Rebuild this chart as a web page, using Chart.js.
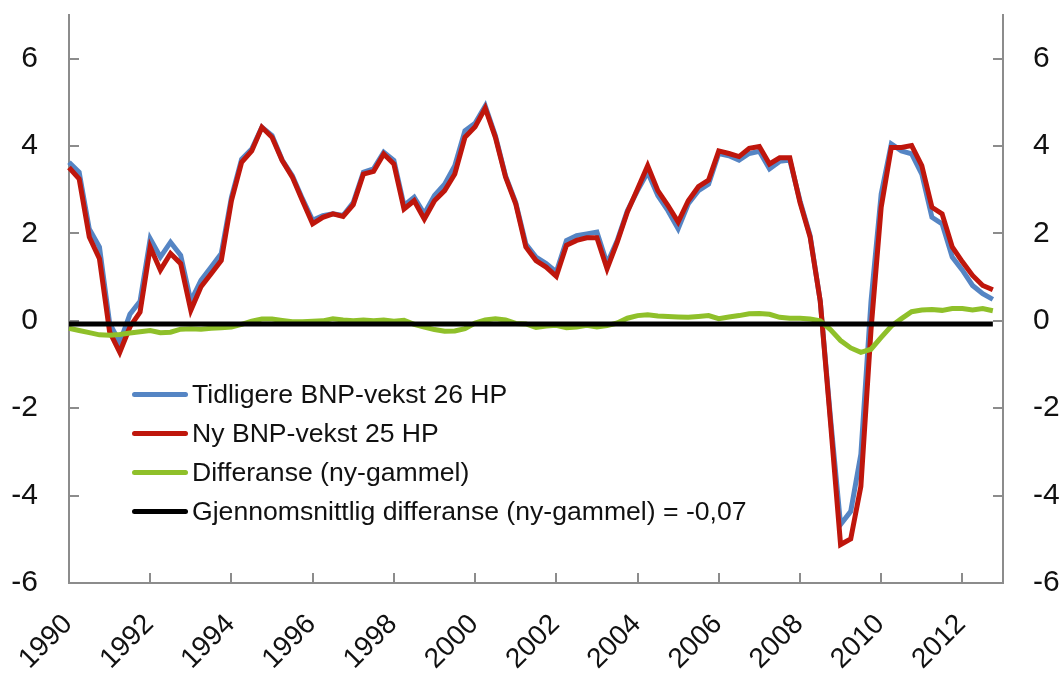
<!DOCTYPE html>
<html>
<head>
<meta charset="utf-8">
<script src="https://cdn.jsdelivr.net/npm/chart.js@4.4.1/dist/chart.umd.min.js"></script>
<style>
  body { margin: 0; background: #fff; }
  #wrap { position: relative; width: 1063px; height: 673px; }
  #legend { position: absolute; left: 132px; top: 375px; font-family: "Liberation Sans", Arial, sans-serif; font-size: 26.6px; color: #111; }
  #legend .row { display: flex; align-items: center; height: 39px; }
  #legend .swatch { width: 56px; height: 5px; border-radius: 3px; margin-right: 4px; }
</style>
</head>
<body>
<div id="wrap">
  <canvas id="chart" width="1063" height="673"></canvas>
  <div id="legend"></div>
</div>
<script>
// quarterly categories 1990K1 .. 2013K1 (last one empty, like the source sheet)
const categories = [];
for (let y = 1990; y <= 2013; y++) {
    for (let q = 1; q <= 4; q++) categories.push(y + 'K' + q);
}
categories.length = 93;

const tickYears = ['1990', '1992', '1994', '1996', '1998', '2000', '2002', '2004', '2006', '2008', '2010', '2012'];
const yTicks = [-6, -4, -2, 0, 2, 4, 6];

// Tidligere BNP-vekst 26 HP
const oldGrowth = [
    3.63, 3.40, 2.10, 1.69, -0.05, -0.50, 0.15, 0.45, 1.88, 1.46, 1.80, 1.50,
    0.45, 0.93, 1.23, 1.54, 2.83, 3.70, 3.93, 4.43, 4.24, 3.68, 3.32, 2.79,
    2.30, 2.41, 2.45, 2.41, 2.71, 3.40, 3.48, 3.86, 3.67, 2.64, 2.83, 2.45,
    2.87, 3.13, 3.55, 4.35, 4.52, 4.92, 4.24, 3.32, 2.71, 1.76, 1.46, 1.31,
    1.12, 1.84, 1.95, 1.99, 2.03, 1.31, 1.84, 2.52, 2.98, 3.40, 2.87, 2.52,
    2.11, 2.68, 2.98, 3.13, 3.83, 3.78, 3.68, 3.83, 3.88, 3.48, 3.65, 3.68,
    2.75, 1.95, 0.45, -2.20, -4.66, -4.36, -3.05, 0.45, 2.90, 4.05, 3.89, 3.82,
    3.36, 2.37, 2.22, 1.46, 1.16, 0.81, 0.62, 0.49
];

// Ny BNP-vekst 25 HP
const newGrowth = [
    3.51, 3.25, 1.92, 1.42, -0.25, -0.72, -0.14, 0.20, 1.69, 1.16, 1.54, 1.31,
    0.24, 0.78, 1.08, 1.38, 2.75, 3.63, 3.89, 4.43, 4.20, 3.67, 3.29, 2.75,
    2.22, 2.37, 2.45, 2.39, 2.66, 3.36, 3.42, 3.82, 3.59, 2.56, 2.75, 2.33,
    2.75, 2.98, 3.36, 4.20, 4.44, 4.87, 4.20, 3.29, 2.68, 1.69, 1.38, 1.23,
    1.02, 1.73, 1.84, 1.90, 1.90, 1.19, 1.80, 2.49, 3.02, 3.55, 2.98, 2.64,
    2.26, 2.75, 3.07, 3.22, 3.89, 3.83, 3.76, 3.95, 3.99, 3.59, 3.73, 3.73,
    2.71, 1.92, 0.45, -2.30, -5.12, -4.99, -3.79, -0.20, 2.60, 3.97, 3.97, 4.01,
    3.55, 2.60, 2.45, 1.69, 1.35, 1.04, 0.81, 0.71
];

// Differanse (ny-gammel)
const difference = [
    -0.17, -0.22, -0.27, -0.32, -0.33, -0.31, -0.28, -0.25, -0.22, -0.27, -0.26, -0.19,
    -0.18, -0.19, -0.17, -0.16, -0.14, -0.08, -0.01, 0.04, 0.04, 0.01, -0.02, -0.02,
    -0.01, 0.00, 0.05, 0.02, 0.00, 0.02, 0.00, 0.02, -0.01, 0.01, -0.08, -0.14,
    -0.20, -0.24, -0.23, -0.18, -0.05, 0.02, 0.05, 0.02, -0.06, -0.07, -0.15, -0.12,
    -0.10, -0.16, -0.14, -0.10, -0.14, -0.11, -0.05, 0.06, 0.12, 0.14, 0.11, 0.10,
    0.09, 0.08, 0.10, 0.12, 0.05, 0.09, 0.12, 0.16, 0.17, 0.15, 0.08, 0.06,
    0.06, 0.04, 0.00, -0.20, -0.45, -0.62, -0.72, -0.65, -0.38, -0.12, 0.05, 0.21,
    0.25, 0.26, 0.24, 0.28, 0.28, 0.25, 0.28, 0.23
];

// Gjennomsnittlig differanse = -0,07
const meanDifference = new Array(92).fill(-0.07);

const axisGrey = '#8c8c8c';
const font = { family: '"Liberation Sans", Arial, sans-serif' };

function yAxis(position, padding, width) {
    return {
        type: 'linear',
        position: position,
        min: -6,
        max: 7,
        afterBuildTicks: function(scale) {
            scale.ticks = yTicks.map(v => ({ value: v }));
        },
        afterFit: function(scale) {
            scale.width = width;
            // tick padding should not push the plot area down
            scale.paddingTop = 0;
            scale.paddingBottom = 0;
        },
        border: { display: true, color: axisGrey, width: 2 },
        grid: { drawOnChartArea: false, drawTicks: true, tickLength: -10, color: axisGrey, lineWidth: 2 },
        ticks: { font: Object.assign({ size: 30 }, font), color: '#111', padding: padding }
    };
}

const chart = new Chart(document.getElementById('chart'), {
    type: 'line',
    data: {
        labels: categories,
        datasets: [
            { label: 'Tidligere BNP-vekst 26 HP', data: oldGrowth, borderColor: '#5585C4', borderWidth: 5, order: 4 },
            { label: 'Ny BNP-vekst 25 HP', data: newGrowth, borderColor: '#BF160C', borderWidth: 5, order: 3 },
            { label: 'Differanse (ny-gammel)', data: difference, borderColor: '#8FC02A', borderWidth: 5, order: 2 },
            { label: 'Gjennomsnittlig differanse (ny-gammel) = -0,07', data: meanDifference, borderColor: '#000000', borderWidth: 5, order: 1 }
        ]
    },
    options: {
        responsive: false,
        animation: false,
        devicePixelRatio: 1,
        layout: { padding: { top: 15, left: 0, right: 0, bottom: 0 } },
        elements: {
            point: { radius: 0, hoverRadius: 0 },
            line: { tension: 0, fill: false }
        },
        plugins: {
            legend: { display: false },
            tooltip: { enabled: false }
        },
        scales: {
            x: {
                type: 'category',
                offset: false,
                afterFit: function(scale) {
                    scale.height = 90;
                    scale.paddingLeft = 0;
                    scale.paddingRight = 0;
                },
                border: { display: true, color: axisGrey, width: 2 },
                grid: {
                    drawOnChartArea: false,
                    drawTicks: true,
                    tickLength: -10,
                    lineWidth: 2,
                    color: ctx => (ctx.index % 8 === 0 ? axisGrey : 'rgba(0,0,0,0)')
                },
                ticks: {
                    autoSkip: false,
                    maxRotation: 45,
                    minRotation: 45,
                    padding: 35,
                    labelOffset: -1,
                    font: Object.assign({ size: 28 }, font),
                    color: '#111',
                    callback: function(value, index) {
                        return index % 8 === 0 ? tickYears[index / 8] : '';
                    }
                }
            },
            y: yAxis('left', 41, 69),
            y2: yAxis('right', 40, 60)
        }
    }
});

// legend drawn as html text inside the plot area
const legendEl = document.getElementById('legend');
chart.data.datasets.forEach(ds => {
    const row = document.createElement('div');
    row.className = 'row';
    row.innerHTML = '<span class="swatch" style="background:' + ds.borderColor + '"></span><span>' + ds.label + '</span>';
    legendEl.appendChild(row);
});
</script>
</body>
</html>
